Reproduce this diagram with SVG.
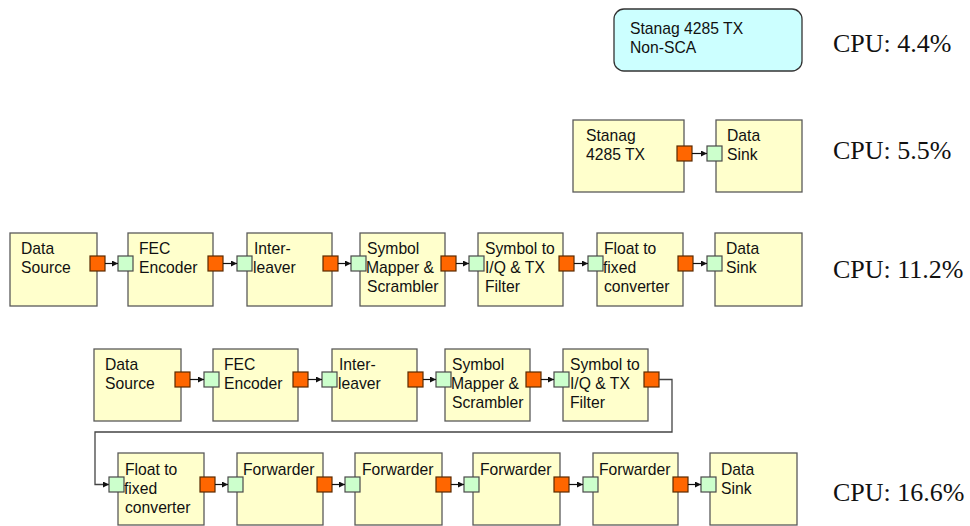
<svg xmlns="http://www.w3.org/2000/svg" width="970" height="526" viewBox="0 0 970 526">
<style>
.box{fill:#ffffcc;stroke:#5a5a5a;stroke-width:1.3}
.tbox{fill:#ccffff;stroke:#333;stroke-width:1.3}
.out{fill:#ff6600;stroke:#5a2a00;stroke-width:1.2}
.in{fill:#ccffcc;stroke:#4a4a4a;stroke-width:1.2}
.lbl{font-family:"Liberation Sans",Arial,sans-serif;font-size:15.7px;fill:#111}
.cpu{font-family:"Liberation Serif","Times New Roman",serif;font-size:26px;fill:#111}
.arr{stroke:#111;stroke-width:1.2;fill:none;marker-end:url(#ah)}
.wire{stroke:#444;stroke-width:1.3;fill:none;marker-end:url(#ah)}
</style>
<defs>
<marker id="ah" viewBox="0 0 8 8" refX="8" refY="4" markerWidth="6" markerHeight="6" markerUnits="userSpaceOnUse" orient="auto">
<path d="M0,0 L8,4 L0,8 z" fill="#111"/>
</marker>
</defs>
<rect width="970" height="526" fill="#fff"/>

<!-- Row 1 -->
<g id="nonsca">
<rect class="tbox" x="614" y="9" width="188" height="62" rx="10"/>
<text class="lbl" x="630" y="34">Stanag 4285 TX</text>
<text class="lbl" x="630" y="53">Non-SCA</text>
</g>

<!-- Row 2 -->
<g id="r2-stanag"><rect class="box" x="573" y="120" width="111" height="72"/>
<text class="lbl" x="586" y="141">Stanag</text><text class="lbl" x="586" y="160">4285 TX</text>
<rect class="out" x="677" y="146" width="15" height="15"/></g>
<g id="r2-sink"><rect class="box" x="716" y="120" width="86" height="72"/>
<text class="lbl" x="727" y="141">Data</text><text class="lbl" x="727" y="160">Sink</text>
<rect class="in" x="707" y="146" width="15" height="15"/></g>

<!-- Row 3 -->
<g id="r3-src"><rect class="box" x="10" y="233" width="87" height="73"/>
<text class="lbl" x="21" y="254">Data</text><text class="lbl" x="21" y="273">Source</text>
<rect class="out" x="90" y="256" width="15" height="15"/></g>
<g id="r3-fec"><rect class="box" x="128" y="233" width="85" height="73"/>
<text class="lbl" x="139" y="254">FEC</text><text class="lbl" x="139" y="273">Encoder</text>
<rect class="in" x="118" y="256" width="15" height="15"/>
<rect class="out" x="208" y="256" width="15" height="15"/></g>
<g id="r3-il"><rect class="box" x="247" y="233" width="85" height="73"/>
<text class="lbl" x="254" y="254">Inter-</text><text class="lbl" x="253" y="273">leaver</text>
<rect class="in" x="237" y="256" width="15" height="15"/>
<rect class="out" x="323" y="256" width="15" height="15"/></g>
<g id="r3-sm"><rect class="box" x="360" y="233" width="85" height="73"/>
<text class="lbl" x="367" y="254">Symbol</text><text class="lbl" x="366" y="273">Mapper &amp;</text><text class="lbl" x="367" y="292">Scrambler</text>
<rect class="in" x="351" y="256" width="15" height="15"/>
<rect class="out" x="441" y="256" width="15" height="15"/></g>
<g id="r3-st"><rect class="box" x="478" y="233" width="85" height="73"/>
<text class="lbl" x="485" y="254">Symbol to</text><text class="lbl" x="485" y="273">I/Q &amp; TX</text><text class="lbl" x="485" y="292">Filter</text>
<rect class="in" x="469" y="256" width="15" height="15"/>
<rect class="out" x="559" y="256" width="15" height="15"/></g>
<g id="r3-fl"><rect class="box" x="597" y="233" width="86" height="73"/>
<text class="lbl" x="604" y="254">Float to</text><text class="lbl" x="603" y="273">fixed</text><text class="lbl" x="604" y="292">converter</text>
<rect class="in" x="588" y="256" width="15" height="15"/>
<rect class="out" x="678" y="256" width="15" height="15"/></g>
<g id="r3-sink"><rect class="box" x="715" y="233" width="87" height="73"/>
<text class="lbl" x="726" y="254">Data</text><text class="lbl" x="726" y="273">Sink</text>
<rect class="in" x="707" y="256" width="15" height="15"/></g>

<!-- Row 4 -->
<g id="r4-src"><rect class="box" x="94" y="349" width="87" height="72"/>
<text class="lbl" x="105" y="370">Data</text><text class="lbl" x="105" y="389">Source</text>
<rect class="out" x="175" y="372" width="15" height="15"/></g>
<g id="r4-fec"><rect class="box" x="213" y="349" width="85" height="72"/>
<text class="lbl" x="224" y="370">FEC</text><text class="lbl" x="224" y="389">Encoder</text>
<rect class="in" x="204" y="372" width="15" height="15"/>
<rect class="out" x="293" y="372" width="15" height="15"/></g>
<g id="r4-il"><rect class="box" x="332" y="349" width="85" height="72"/>
<text class="lbl" x="339" y="370">Inter-</text><text class="lbl" x="338" y="389">leaver</text>
<rect class="in" x="322" y="372" width="15" height="15"/>
<rect class="out" x="408" y="372" width="15" height="15"/></g>
<g id="r4-sm"><rect class="box" x="445" y="349" width="85" height="72"/>
<text class="lbl" x="452" y="370">Symbol</text><text class="lbl" x="451" y="389">Mapper &amp;</text><text class="lbl" x="452" y="408">Scrambler</text>
<rect class="in" x="436" y="372" width="15" height="15"/>
<rect class="out" x="526" y="372" width="15" height="15"/></g>
<g id="r4-st"><rect class="box" x="563" y="349" width="85" height="72"/>
<text class="lbl" x="570" y="370">Symbol to</text><text class="lbl" x="570" y="389">I/Q &amp; TX</text><text class="lbl" x="570" y="408">Filter</text>
<rect class="in" x="554" y="372" width="15" height="15"/>
<rect class="out" x="644" y="372" width="15" height="15"/></g>

<!-- Row 5 -->
<g id="r5-fl"><rect class="box" x="118" y="453" width="86" height="72"/>
<text class="lbl" x="125" y="475">Float to</text><text class="lbl" x="124" y="494">fixed</text><text class="lbl" x="125" y="513">converter</text>
<rect class="in" x="109" y="477" width="15" height="15"/>
<rect class="out" x="200" y="477" width="15" height="15"/></g>
<g id="r5-fw1"><rect class="box" x="237" y="453" width="86" height="72"/>
<text class="lbl" x="243" y="475">Forwarder</text>
<rect class="in" x="228" y="477" width="15" height="15"/>
<rect class="out" x="317" y="477" width="15" height="15"/></g>
<g id="r5-fw2"><rect class="box" x="355" y="453" width="87" height="72"/>
<text class="lbl" x="362" y="475">Forwarder</text>
<rect class="in" x="345" y="477" width="15" height="15"/>
<rect class="out" x="436" y="477" width="15" height="15"/></g>
<g id="r5-fw3"><rect class="box" x="473" y="453" width="87" height="72"/>
<text class="lbl" x="480" y="475">Forwarder</text>
<rect class="in" x="464" y="477" width="15" height="15"/>
<rect class="out" x="554" y="477" width="15" height="15"/></g>
<g id="r5-fw4"><rect class="box" x="593" y="453" width="85" height="72"/>
<text class="lbl" x="599" y="475">Forwarder</text>
<rect class="in" x="583" y="477" width="15" height="15"/>
<rect class="out" x="673" y="477" width="15" height="15"/></g>
<g id="r5-sink"><rect class="box" x="710" y="453" width="87" height="72"/>
<text class="lbl" x="721" y="475">Data</text><text class="lbl" x="721" y="494">Sink</text>
<rect class="in" x="701" y="477" width="15" height="15"/></g>

<!-- Connectors -->
<g id="connectors">
<line class="arr" x1="692" y1="153.5" x2="707" y2="153.5"/>
<line class="arr" x1="105" y1="263.5" x2="118" y2="263.5"/>
<line class="arr" x1="223" y1="263.5" x2="237" y2="263.5"/>
<line class="arr" x1="338" y1="263.5" x2="351" y2="263.5"/>
<line class="arr" x1="456" y1="263.5" x2="469" y2="263.5"/>
<line class="arr" x1="574" y1="263.5" x2="588" y2="263.5"/>
<line class="arr" x1="693" y1="263.5" x2="707" y2="263.5"/>
<line class="arr" x1="190" y1="379.5" x2="204" y2="379.5"/>
<line class="arr" x1="308" y1="379.5" x2="322" y2="379.5"/>
<line class="arr" x1="423" y1="379.5" x2="436" y2="379.5"/>
<line class="arr" x1="541" y1="379.5" x2="554" y2="379.5"/>
<path class="wire" d="M659,379.5 H672 V432 H95 V484.5 H109"/>
<line class="arr" x1="215" y1="484.5" x2="228" y2="484.5"/>
<line class="arr" x1="332" y1="484.5" x2="345" y2="484.5"/>
<line class="arr" x1="451" y1="484.5" x2="464" y2="484.5"/>
<line class="arr" x1="569" y1="484.5" x2="583" y2="484.5"/>
<line class="arr" x1="688" y1="484.5" x2="701" y2="484.5"/>
</g>

<!-- CPU labels -->
<text class="cpu" x="833" y="52">CPU: 4.4%</text>
<text class="cpu" x="833" y="159">CPU: 5.5%</text>
<text class="cpu" x="833" y="278">CPU: 11.2%</text>
<text class="cpu" x="833" y="501">CPU: 16.6%</text>
</svg>
